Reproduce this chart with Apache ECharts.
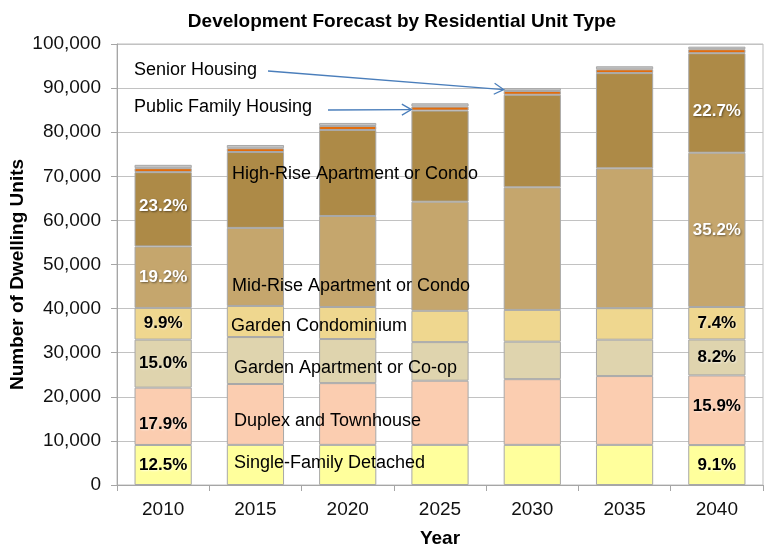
<!DOCTYPE html>
<html>
<head>
<meta charset="utf-8">
<title>Development Forecast by Residential Unit Type</title>
<script src="https://cdn.jsdelivr.net/npm/echarts@6/dist/echarts.min.js"></script>
<style>
  html, body { margin: 0; padding: 0; background: #ffffff; }
  #chart { width: 767px; height: 548px; }
</style>
</head>
<body>
<div id="chart"></div>
<script>
// Forecast years (categories)
const years = ['2010', '2015', '2020', '2025', '2030', '2035', '2040'];

// Dwelling units by residential unit type, stacked bottom to top
const singleFamily = [9080, 9100, 9100, 9100, 9100, 9100, 9050];
const duplex       = [13000, 13800, 14000, 14550, 14900, 15600, 15800];
const gardenApt    = [10890, 10650, 10000, 8750, 8500, 8250, 8150];
const gardenCondo  = [7190, 7050, 7260, 7100, 7200, 7150, 7360];
const midRise      = [13940, 17700, 20640, 24750, 27800, 31700, 34990];
const highRise     = [16840, 17200, 19500, 20650, 21000, 21600, 22560];
const publicFamily = [900, 850, 900, 900, 850, 850, 900];
const senior       = [760, 750, 700, 750, 650, 700, 590];

// Years whose bars carry share-of-total labels
const labelledYears = ['2010', '2040'];

// Y axis ticks
const yMin = 0, yMax = 100000, yStep = 10000;

const FONT = '"Liberation Sans", Arial, Helvetica, sans-serif';

const layers = [
  { name: 'Single-Family Detached',      data: singleFamily, color: '#FFFF9C', text: '#000000' },
  { name: 'Duplex and Townhouse',        data: duplex,       color: '#FBCDB0', text: '#000000' },
  { name: 'Garden Apartment or Co-op',   data: gardenApt,    color: '#DFD4AE', text: '#000000' },
  { name: 'Garden Condominium',          data: gardenCondo,  color: '#EFD78F', text: '#000000' },
  { name: 'Mid-Rise Apartment or Condo', data: midRise,      color: '#C5A66D', text: '#FFFFFF' },
  { name: 'High-Rise Apartment or Condo',data: highRise,     color: '#AD8A47', text: '#FFFFFF' },
  { name: 'Public Family Housing',       data: publicFamily, color: '#E46C0A', text: null },
  { name: 'Senior Housing',              data: senior,       color: '#C4C4C4', text: null }
];

// small vertical nudges for a few share labels (layer name|year -> px)
const labelNudge = {
  'Duplex and Townhouse|2010': 8,
  'Duplex and Townhouse|2040': -4,
  'High-Rise Apartment or Condo|2040': 8,
  'High-Rise Apartment or Condo|2010': -3
};

const totals = years.map((_, i) => layers.reduce((s, l) => s + l.data[i], 0));

const series = layers.map(l => ({
  name: l.name,
  type: 'bar',
  stack: 'units',
  barCategoryGap: '38%',
  itemStyle: { color: l.color, borderColor: '#A8A8A8', borderWidth: 1 },
  emphasis: { disabled: true },
  data: l.data.map((v, i) => {
    const item = { value: v };
    if (l.text && labelledYears.includes(years[i])) {
      item.label = {
        show: true,
        position: 'inside',
        offset: [0, labelNudge[l.name + '|' + years[i]] || 0],
        formatter: () => (v / totals[i] * 100).toFixed(1) + '%',
        color: l.text,
        fontFamily: FONT,
        fontWeight: 'bold',
        fontSize: 17,
        textShadowColor: l.text === '#FFFFFF' ? 'rgba(0,0,0,0.45)' : 'rgba(255,255,255,0.6)',
        textShadowBlur: 2,
        textShadowOffsetX: 1,
        textShadowOffsetY: 1
      };
    }
    return item;
  })
}));

const chart = echarts.init(document.getElementById('chart'), null, { renderer: 'canvas' });

const option = {
  animation: false,
  backgroundColor: '#ffffff',
  title: {
    text: 'Development Forecast by Residential Unit Type',
    left: 397,
    top: 7,
    textAlign: 'center',
    textStyle: { fontFamily: FONT, fontWeight: 'bold', fontSize: 19, color: '#000000' }
  },
  grid: {
    left: 117, right: 4, top: 44, bottom: 63,
    outerBoundsMode: 'none',
    containLabel: false,
    show: true, borderColor: '#BDBDBD', borderWidth: 1, backgroundColor: 'transparent'
  },
  xAxis: {
    type: 'category',
    data: years,
    name: 'Year',
    nameLocation: 'middle',
    nameGap: 44,
    nameTextStyle: { fontFamily: FONT, fontWeight: 'bold', fontSize: 19, color: '#000000' },
    axisLine: { lineStyle: { color: '#A6A6A6', width: 1 } },
    axisTick: { show: true, length: 6, lineStyle: { color: '#A6A6A6' } },
    axisLabel: { fontFamily: FONT, fontSize: 19, color: '#111111', margin: 15 }
  },
  yAxis: {
    type: 'value',
    min: yMin,
    max: yMax,
    interval: yStep,
    name: 'Number of Dwelling Units',
    nameLocation: 'middle',
    nameGap: 90,
    nameMoveOverlap: false,
    nameTextStyle: { fontFamily: FONT, fontWeight: 'bold', fontSize: 19, color: '#000000', padding: [0, 20, 0, 0] },
    axisLine: { show: true, lineStyle: { color: '#A6A6A6', width: 1 } },
    axisTick: { show: true, length: 6, lineStyle: { color: '#A6A6A6' } },
    axisLabel: {
      fontFamily: FONT, fontSize: 19, color: '#111111', margin: 16,
      formatter: v => v.toLocaleString('en-US')
    },
    splitLine: { lineStyle: { color: '#C2C2C2', width: 1 } }
  },
  series: series
};

chart.setOption(option);

// ---- Annotations: in-chart layer names and arrows to the two small layers ----
const annoText = (text, x, y) => ({
  type: 'text',
  left: x,
  top: y - 10,
  z: 100,
  style: { text: text, fill: '#000000', font: '18px ' + FONT, textVerticalAlign: 'top' }
});

const toPx = (cat, val) => chart.convertToPixel({ xAxisIndex: 0, yAxisIndex: 0 }, [cat, val]);
const catW = toPx(years[1], 0)[0] - toPx(years[0], 0)[0];
const barW = catW * 0.62;

function arrow(x1, y1, x2, y2) {
  const ang = Math.atan2(y2 - y1, x2 - x1);
  const head = 11, spread = Math.PI / 6;
  const p1 = [x2 - head * Math.cos(ang - spread), y2 - head * Math.sin(ang - spread)];
  const p2 = [x2 - head * Math.cos(ang + spread), y2 - head * Math.sin(ang + spread)];
  const st = { stroke: '#4A7EBB', lineWidth: 1.3, fill: null };
  return [
    { type: 'line', z: 100, shape: { x1, y1, x2, y2 }, style: st },
    { type: 'polyline', z: 100, shape: { points: [p1, [x2, y2], p2] }, style: st }
  ];
}

// arrow targets: left edges of the bars, at the level of the small top layers
const idx2030 = years.indexOf('2030');
const idx2025 = years.indexOf('2025');
const seniorTip = toPx(years[idx2030], totals[idx2030] - senior[idx2030] / 2);
const publicTip = toPx(years[idx2025], totals[idx2025] - senior[idx2025] - publicFamily[idx2025] / 2);

const graphics = [
  annoText('Senior Housing', 134, 71),
  annoText('Public Family Housing', 134, 108),
  annoText('High-Rise Apartment or Condo', 232, 175),
  annoText('Mid-Rise Apartment or Condo', 232, 287),
  annoText('Garden Condominium', 231, 327),
  annoText('Garden Apartment or Co-op', 234, 369),
  annoText('Duplex and Townhouse', 234, 422),
  annoText('Single-Family Detached', 234, 464)
]
  .concat(arrow(268, 71, seniorTip[0] - barW / 2, seniorTip[1]))
  .concat(arrow(328, 110, publicTip[0] - barW / 2, publicTip[1] + 1));

chart.setOption({ graphic: graphics });
</script>
</body>
</html>
